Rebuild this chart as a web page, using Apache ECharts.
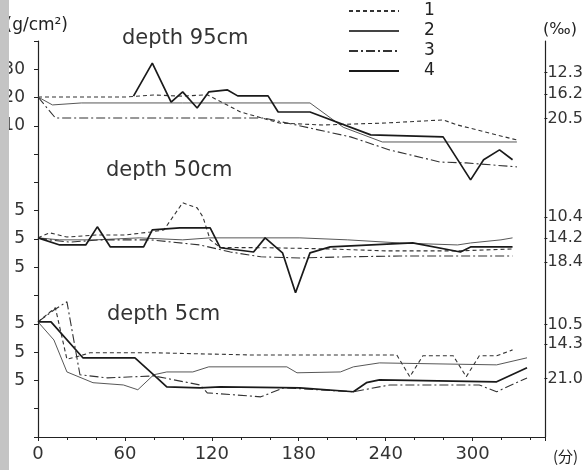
<!DOCTYPE html>
<html><head><meta charset="utf-8">
<script src="https://cdn.jsdelivr.net/npm/echarts@6/dist/echarts.min.js"></script>
<style>html,body{margin:0;padding:0;background:#fff}#c{width:586px;height:470px}</style>
</head><body><div id="c"></div>
<script>
// ---- data ----
const legendNames = ['1', '2', '3', '4'];
const panelTitles = ['depth 95cm', 'depth 50cm', 'depth 5cm'];
const leftTickLabels = ['', '30', '20', '10', '', '', '5', '5', '5', '', '5', '5', '5', '', ''];
const rightTopLabels = [12.3, 16.2, 20.5];
const rightMidLabels = [10.4, 14.2, 18.4];
const rightBotLabels = [10.5, 14.3, 21.0];
const xLabelsUnit = '(分)';
const leftUnit = '(g/cm²)';
const rightUnit = '(‰)';

// depth 95 cm  [minutes, value]
const d95_1 = [[0,20.2],[20,20.2],[40,20.2],[60,20.2],[80,20.9],[100,20.5],[117,21.0],[140,14.9],[167,11.0],[197,10.3],[240,11.0],[280,12.1],[290,10.3],[331,5.0]];
const d95_2 = [[0,20.2],[10,17.4],[30,18.1],[100,18.1],[150,18.1],[188,18.1],[211,9.5],[238,4.3],[280,4.3],[320,4.3],[331,4.3]];
const d95_3 = [[0,20.2],[12,12.8],[50,12.8],[100,12.8],[156,12.8],[216,6.1],[243,1.5],[278,-2.8],[296,-3.1],[331,-4.5]];
const d95_4 = [[66,20.5],[79,32.2],[92,18.4],[100,22.0],[110,16.3],[118,22.0],[131,22.7],[138,20.6],[159,20.6],[166,14.9],[188,14.9],[230,6.8],[280,6.1],[299,-9.1],[308,-2.0],[319,1.5],[328,-2.0]];
// depth 50 cm
const d50_1 = [[0,20.4],[8,22.2],[20,20.7],[40,21.4],[60,21.4],[78,22.5],[87,23.2],[100,32.8],[110,31.0],[114,27.8],[119,19.7],[126,17.0],[160,16.9],[200,16.5],[240,15.8],[290,15.8],[328,16.5]];
const d50_2 = [[0,20.4],[15,19.7],[40,19.7],[70,20.4],[100,19.7],[119,20.4],[158,20.4],[181,20.4],[214,19.7],[250,18.6],[290,17.9],[299,18.6],[320,19.7],[328,20.4]];
const d50_3 = [[0,20.4],[8,19.7],[22,18.9],[43,19.7],[78,19.7],[112,17.9],[133,15.4],[154,13.7],[181,13.3],[214,13.7],[250,14.0],[290,14.0],[328,14.0]];
const d50_4 = [[0,20.4],[15,17.9],[33,17.9],[41,24.3],[50,17.2],[73,17.2],[79,23.2],[98,23.9],[119,23.9],[126,16.9],[149,15.4],[157,20.4],[169,15.1],[178,1.0],[188,15.1],[202,17.2],[259,18.6],[292,15.4],[299,17.2],[328,17.2]];
// depth 5 cm
const d5_1 = [[0,30.7],[12,35.7],[17,24.3],[20,17.5],[29,18.7],[36,19.8],[78,19.8],[147,19.0],[248,19.0],[257,11.3],[266,18.7],[287,18.7],[296,11.3],[305,18.7],[317,18.7],[328,20.8]];
const d5_2 = [[0,30.7],[11,24.3],[20,13.0],[38,9.2],[59,8.4],[69,6.7],[80,12.0],[89,13.0],[107,13.0],[118,14.8],[172,14.8],[179,12.7],[209,13.0],[218,14.8],[236,16.2],[317,15.5],[338,18.0]];
const d5_3 = [[0,30.7],[11,34.9],[20,37.8],[29,12.0],[48,10.9],[80,11.6],[112,8.4],[117,5.6],[154,4.2],[170,7.4],[218,6.0],[243,8.4],[305,8.4],[317,6.0],[338,10.9]];
const d5_4 = [[0,30.7],[9,30.7],[31,18.0],[67,18.0],[80,12.0],[89,7.7],[112,7.4],[126,7.7],[181,7.4],[218,6.0],[227,9.2],[236,10.2],[317,9.5],[338,14.5]];

const panels = [
  {series: [d95_1, d95_2, d95_3, d95_4], right: rightTopLabels, rmin: 6.70, rmax: 31.92, k: 0},
  {series: [d50_1, d50_2, d50_3, d50_4], right: rightMidLabels, rmin: 4.28, rmax: 29.41, k: 5},
  {series: [d5_1, d5_2, d5_3, d5_4], right: rightBotLabels, rmin: 4.88, rmax: 32.39, k: 9}
];

// ---- layout / style ----
const FONT = 'DejaVu Sans';
const INK = '#222';
const L = 38, T = 41, W = 507, H = 396, STEP = H / 14;
const lineStyles = [
  {type: [4, 3], width: 1.1, color: '#333'},
  {type: 'solid', width: 0.9, color: '#444'},
  {type: [9, 3, 2, 3], width: 1.1, color: '#333'},
  {type: 'solid', width: 1.7, color: '#1a1a1a'}
];

const grid = [{left: L, top: T, width: W, height: H}];
const xAxis = [{
  gridIndex: 0, type: 'value', min: 0, max: 350, interval: 60,
  axisLine: {show: true, onZero: false, lineStyle: {color: INK, width: 1.2}},
  axisTick: {show: true, length: 4, lineStyle: {color: INK}},
  minorTick: {show: true, splitNumber: 3, length: 3, lineStyle: {color: INK}},
  axisLabel: {showMaxLabel: false, margin: 8, fontSize: 18, color: '#333', fontFamily: FONT},
  splitLine: {show: false}, minorSplitLine: {show: false}
}];
const yAxis = [{
  gridIndex: 0, type: 'value', inverse: true, min: 0, max: 14, interval: 1,
  axisLine: {show: true, onZero: false, lineStyle: {color: INK, width: 1.2}},
  axisTick: {show: true, length: 4, lineStyle: {color: INK}},
  axisLabel: {formatter: v => leftTickLabels[Math.round(v)] || '', margin: 13, fontSize: 17, color: '#333', fontFamily: FONT},
  splitLine: {show: false}
}, {
  gridIndex: 0, type: 'value', position: 'right', inverse: true, min: 0, max: 14,
  axisLine: {show: true, onZero: false, lineStyle: {color: INK, width: 1.2}},
  axisTick: {show: false}, axisLabel: {show: false}, splitLine: {show: false}
}];
const series = [];

panels.forEach((p, i) => {
  const gi = i + 1;
  grid.push({left: L, top: T + p.k * STEP, width: W, height: 5 * STEP});
  xAxis.push({gridIndex: gi, type: 'value', min: 0, max: 350, show: false});
  yAxis.push({gridIndex: gi, type: 'value', min: -10, max: 40, show: false});
  yAxis.push({
    gridIndex: gi, type: 'value', position: 'right', inverse: true, min: p.rmin, max: p.rmax,
    axisLine: {show: false},
    axisTick: {show: true, length: 3, customValues: p.right, lineStyle: {color: INK}},
    axisLabel: {customValues: p.right, formatter: v => v.toFixed(1), margin: 3, fontSize: 16, color: '#333', fontFamily: FONT},
    splitLine: {show: false}
  });
  p.series.forEach((d, j) => {
    series.push({
      type: 'line', name: legendNames[j], xAxisIndex: gi, yAxisIndex: 2 + 2 * i,
      data: d, showSymbol: false, symbol: 'none', silent: true, clip: false,
      color: lineStyles[j].color,
      z: j === 3 ? 4 : 3, lineStyle: lineStyles[j]
    });
  });
});

const titleY = [39, 171, 315], titleX = [122, 106, 107];
const graphic = [
  {type: 'text', x: 68, y: 26, style: {text: leftUnit, fontSize: 17, fontFamily: FONT, fill: INK, align: 'right', verticalAlign: 'middle'}},
  {type: 'text', x: 543, y: 30, style: {text: rightUnit, fontSize: 16, fontFamily: FONT, fill: INK, align: 'left', verticalAlign: 'middle'}},
  {type: 'text', x: 553, y: 456, style: {text: xLabelsUnit, fontSize: 15, fontFamily: 'Noto Sans CJK JP', fill: INK, align: 'left', verticalAlign: 'middle'}},
  {type: 'rect', shape: {x: 0, y: 0, width: 9, height: 470}, style: {fill: '#c4c4c4'}, z: 100}
];
panelTitles.forEach((t, i) => graphic.push({type: 'text', x: titleX[i], y: titleY[i],
  style: {text: t, fontSize: 21, fontFamily: FONT, fill: '#333', align: 'left', verticalAlign: 'middle'}}));

const chart = echarts.init(document.getElementById('c'), null, {renderer: 'canvas'});
chart.setOption({
  animation: false,
  backgroundColor: '#fff',
  legend: {
    data: legendNames, orient: 'vertical', left: 343, top: -4, itemWidth: 50, itemHeight: 14, itemGap: 0,
    selectedMode: false,
    itemStyle: {opacity: 0},
    textStyle: {fontSize: 17, lineHeight: 20, color: INK, fontFamily: FONT, padding: [0, 0, 0, 20]}
  },
  grid, xAxis, yAxis, series, graphic
});
</script></body></html>
